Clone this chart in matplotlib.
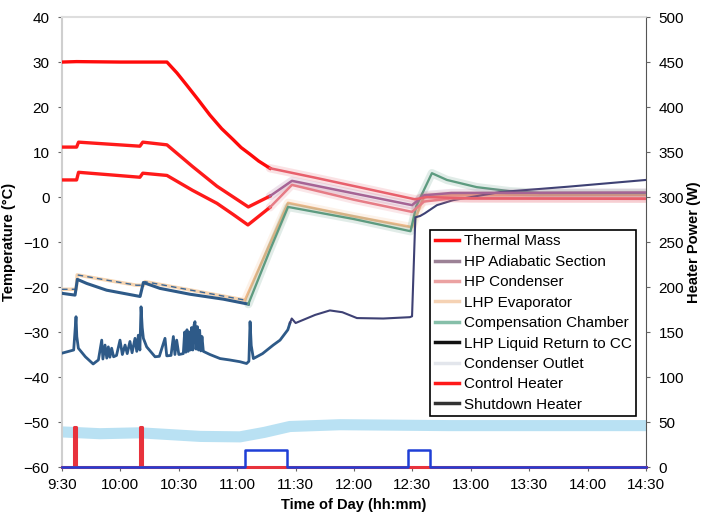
import numpy as np
import matplotlib
matplotlib.use("Agg")
import matplotlib.pyplot as plt
from matplotlib.lines import Line2D

plt.rcParams["font.family"] = ["Liberation Sans", "DejaVu Sans"]

# time axis: minutes after midnight
tick_minutes = [570, 600, 630, 660, 690, 720, 750, 780, 810, 840, 870]
tick_labels = ["9:30", "10:00", "10:30", "11:00", "11:30", "12:00",
               "12:30", "13:00", "13:30", "14:00", "14:30"]

# Thermal Mass (degC)
tm_t = [570, 577.5, 600, 623.9, 629, 634, 640, 646, 652, 657.8, 662, 666.6, 671, 676.8,
        700, 730, 751.3, 757.5, 780, 870]
tm_T = [30.0, 30.1, 30.0, 30.0, 27.6, 24.9, 21.6, 18.2, 15.2, 12.8, 11.0, 9.5, 8.0, 6.4,
        4.3, 1.5, -0.5, 0.0, -0.3, -0.4]

# HP Adiabatic Section
ha_t = [570, 577.5, 578.5, 610, 611.5, 623.9, 637, 649.6, 658, 665.7, 676.8, 688.1, 720,
        749.8, 756, 770, 870]
ha_T = [11.1, 11.1, 12.2, 11.3, 12.2, 11.6, 6.8, 2.4, 0.0, -2.2, 0.2, 3.6, 0.8, -1.8, 0.4,
        0.9, 1.0]

# HP Condenser
hc_t = [570, 577.5, 578.5, 610, 611.5, 623.9, 637, 649.6, 658, 665.5, 676.8, 688.1, 720,
        749.8, 756, 770, 870]
hc_T = [3.8, 3.8, 5.5, 4.4, 5.3, 4.8, 1.5, -1.4, -3.9, -6.2, -2.3, 2.7, -0.6, -3.3, -1.0,
        -0.3, -0.3]

# LHP Evaporator
ev_t = [570, 577.3, 577.8, 592, 608.3, 612.0, 612.6, 630, 664.0, 686.1, 720, 749.8, 756, 770, 870]
ev_T = [-20.5, -20.5, -17.3, -18.4, -19.6, -19.6, -18.8, -20.2, -22.9, -1.3, -4.3, -6.7, 0.2, 0.4, 0.5]

# Compensation Chamber
cc_t = [570, 576.7, 577.9, 582.7, 592.9, 610.1, 611.8, 620.3, 635.7, 652.9, 665.7, 676.8,
        686.1, 720, 749.0, 752, 760, 767.7, 783, 800, 815.5, 870]
cc_T = [-21.4, -21.8, -18.3, -19.2, -20.7, -22.1, -19.0, -20.3, -21.6, -22.7, -23.8, -11.8,
        -2.2, -4.9, -7.6, -2.0, 5.3, 3.8, 2.2, 1.3, 0.9, 0.9]

# LHP Liquid Return to CC
lr_t = [570, 576, 577.2, 577.6, 578.4, 582, 586, 588.7, 590.4, 591, 592.1, 593, 593.8, 594.6,
        595.5, 596.5, 598, 599.8, 601, 602.4, 603.5, 604.9, 606, 607.5, 608.4, 609.2, 610.0,
        610.6, 611.2, 611.8, 613.5, 617.8, 620, 622.9, 623.8, 626, 627.2, 628, 628.9, 630,
        632.3, 633, 633.6, 634.2, 634.8, 635.4, 636, 636.6, 637.2, 637.8, 638.3, 638.9, 639.5,
        640.1, 640.7, 641.3, 641.9, 642.6, 646, 651.2, 656, 661.4, 664.8, 666, 666.6, 667.2,
        668.3, 673, 678.5, 682, 686, 687.1, 688, 690, 700, 707.6, 714, 721.5, 735, 748.7,
        749.8, 751.5, 754, 756.4, 762.6, 770.8, 795, 830, 870]
lr_T = [-34.7, -34.0, -26.6, -31.0, -33.6, -35.5, -37.1, -36.2, -31.8, -36.0, -32.9, -35.8,
        -33.3, -35.6, -33.6, -35.5, -35.2, -31.8, -35.0, -32.9, -34.8, -32.1, -34.6, -31.4,
        -34.3, -30.7, -34.0, -24.4, -29.0, -31.4, -33.3, -35.5, -35.4, -31.4, -35.3, -35.2,
        -31.0, -35.0, -31.8, -35.0, -34.8, -30.0, -34.5, -29.5, -34.3, -30.0, -34.0, -29.0,
        -34.0, -28.5, -27.7, -33.8, -28.8, -34.0, -29.6, -34.2, -31.0, -34.3, -35.0, -35.9,
        -36.2, -36.6, -37.0, -36.5, -27.7, -33.0, -35.9, -34.8, -32.9, -31.8, -29.5, -28.0,
        -27.0, -28.0, -26.2, -25.2, -25.6, -26.9, -27.0, -26.7, -26.5, -4.5, -4.2, -3.6, -1.8,
        -0.7, 1.1, 2.3, 3.8]

# Condenser Outlet
co_t = [570, 589.5, 610, 641, 661.4, 674, 687, 712.8, 769, 870]
co_T = [-52.2, -52.6, -52.4, -53.2, -53.3, -52.3, -51.0, -50.6, -50.8, -50.8]

# heater power (W), step data
ch_t = [570, 576.4, 577.4, 610.3, 611.2, 870]
ch_W = [0, 45, 0, 45, 0, 0]
sh_t = [570, 664, 685.6, 747.7, 759, 870]
sh_W = [0, 19, 0, 19, 0, 0]

legend_labels = ["Thermal Mass", "HP Adiabatic Section", "HP Condenser", "LHP Evaporator",
                 "Compensation Chamber", "LHP Liquid Return to CC", "Condenser Outlet",
                 "Control Heater", "Shutdown Heater"]
legend_colors = ["#ff1010", "#9c8296", "#eba2a2", "#f5d2b4", "#86bfa9", "#111111",
                 "#e3e6ec", "#ff1a1a", "#333333"]


def split_plot(ax, t, v, cut, c1, c2, lw=2.0, glow=False, z=3, **kw):
    t = np.array(t)
    v = np.array(v)
    a = t <= cut
    b = t >= cut
    ax.plot(t[a], v[a], color=c1, lw=lw, zorder=z, **kw)
    if glow:
        ax.plot(t[b], v[b], color=c2, lw=6, alpha=0.18, zorder=z - 1, solid_capstyle="round")
    ax.plot(t[b], v[b], color=c2, lw=lw * 0.75, zorder=z)


fig, ax = plt.subplots(figsize=(7.03, 5.17), dpi=100)
fig.subplots_adjust(left=0.0882, right=0.919, bottom=0.0967, top=0.967)

ax.plot(co_t, co_T, color="#a8daf0", lw=8, alpha=0.8, zorder=1, solid_capstyle="butt")

split_plot(ax, ev_t, ev_T, 664.0, "#f6d4b0", "#f0b888", lw=2.5, glow=True, z=3)
ev_arr = np.array(ev_t) <= 664.0
ax.plot(np.array(ev_t)[ev_arr], np.array(ev_T)[ev_arr], color="#3c6796", lw=1.0,
        ls=(0, (4, 3)), zorder=4)
split_plot(ax, cc_t, cc_T, 665.7, "#2e5a88", "#5d9b80", lw=2.2, glow=True, z=4)
split_plot(ax, lr_t, lr_T, 687.1, "#2e5a88", "#3e4174", lw=2.0, z=4)
split_plot(ax, hc_t, hc_T, 676.8, "#ff1a1a", "#e67c86", lw=2.4, glow=True, z=5)
split_plot(ax, ha_t, ha_T, 676.8, "#ff1a1a", "#a66495", lw=2.4, glow=True, z=5)
split_plot(ax, tm_t, tm_T, 676.8, "#ff0a0a", "#e8606c", lw=2.4, glow=True, z=5)

ax.set_xlim(570, 870)
ax.set_ylim(-60, 40)
ax.set_xticks(tick_minutes)
ax.set_xticklabels(tick_labels)
ax.set_yticks(np.arange(-60, 41, 10))

ax2 = ax.twinx()
ax2.plot(ch_t, ch_W, color="#e8323c", lw=2.2, drawstyle="steps-post", clip_on=False, zorder=2)
ax2.plot(sh_t, sh_W, color="#1f3fd6", lw=1.8, drawstyle="steps-post", clip_on=False, zorder=3)
ax2.set_ylim(0, 500)
ax2.set_yticks(np.arange(0, 501, 50))

for s in ["left", "top", "right", "bottom"]:
    ax2.spines[s].set_visible(False)
ax.spines["left"].set_color("#cfcfcf")
ax.spines["left"].set_linewidth(1.5)
ax.spines["top"].set_color("#dedede")
ax.spines["top"].set_linewidth(1.5)
ax.spines["right"].set_color("#555555")
ax.spines["bottom"].set_color("#888888")

ax.tick_params(axis="both", labelsize=11, direction="out", length=3, color="#666666")
ax.tick_params(axis="y", pad=6)
ax.tick_params(axis="x", pad=5)
ax2.tick_params(axis="y", labelsize=11, direction="out", length=3, color="#666666", pad=6)

ax.set_ylabel("Temperature (°C)", fontsize=10.5, fontweight="bold")
ax.yaxis.set_label_coords(-0.078, 0.5)
ax2.set_ylabel("Heater Power (W)", fontsize=10.5, fontweight="bold")
ax2.yaxis.set_label_coords(1.07, 0.5)
ax.set_xlabel("Time of Day (hh:mm)", fontsize=10.5, fontweight="bold", labelpad=4)

handles = [Line2D([0], [0], color=c, lw=2.5) for c in legend_colors]
leg = ax2.legend(handles, legend_labels, loc="upper left", bbox_to_anchor=(0.63, 0.527),
                 fontsize=11, frameon=True, fancybox=False, framealpha=1, edgecolor="black",
                 handlelength=1.6, handletextpad=0.3, labelspacing=0.42, borderpad=0.3,
                 borderaxespad=0)
leg.get_frame().set_linewidth(1.2)
leg.set_zorder(10)

fig.savefig("out.png", dpi=100)
